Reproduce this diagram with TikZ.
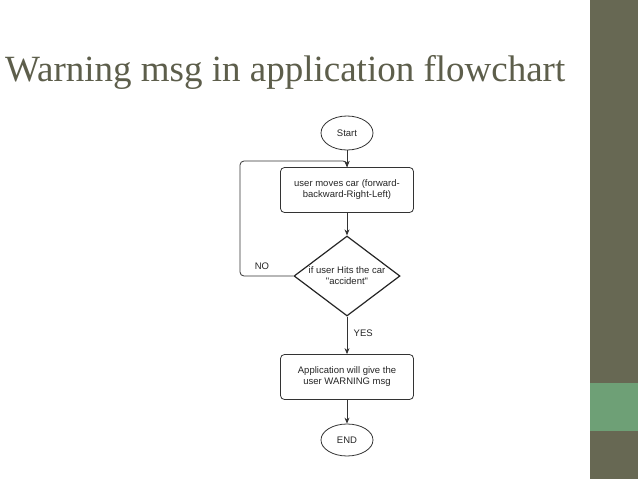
\documentclass[tikz,border=0pt]{standalone}
\usepackage{fontspec}
\setmainfont{Liberation Serif}
\newfontfamily\sansf{Liberation Sans}
\usetikzlibrary{shapes.geometric,arrows.meta}
\definecolor{olive}{RGB}{103,104,83}
\definecolor{lgreen}{RGB}{110,160,118}
\begin{document}
\begin{tikzpicture}[x=1pt,y=-1pt,
  every node/.style={font=\sansf\fontsize{9.5}{11}\selectfont,align=center,text=black!85},
  term/.style={draw=black!80,line width=0.8pt,ellipse,minimum width=52pt,minimum height=34pt,inner sep=0pt},
  proc/.style={draw=black!80,line width=0.8pt,rounded corners=4pt,minimum width=133pt,minimum height=45pt,inner sep=1pt},
  dec/.style={draw=black!85,line width=1.2pt,diamond,aspect=1.33,minimum width=106pt,minimum height=80pt,inner sep=-12pt},
  arr/.style={draw=black!80,line width=0.8pt,-{Stealth[length=6pt,width=5pt]}}]
\useasboundingbox (0,0) rectangle (638,479);
\fill[white] (0,0) rectangle (638,479);
\fill[olive] (590,0) rectangle (638,479);
\fill[lgreen] (590,383) rectangle (638,431);
\node[font=\fontsize{37}{40}\selectfont,text=olive!90!black,anchor=base west,inner sep=0] (title) at (5,81) {Warning msg in application flowchart};
\node[term] (start) at (347,133) {Start};
\node[proc] (move) at (347,190) {user moves car (forward-\\backward-Right-Left)};
\node[dec] (hit) at (347,276) {if user Hits the car\\\symbol{34}accident\symbol{34}};
\node[proc] (warn) at (347,377) {Application will give the\\user WARNING msg};
\node[term,minimum height=32pt] (end) at (347,440) {END};
\coordinate (lp) at (347,161);
\draw[arr] (start) -- (move);
\draw[arr] (move) -- (hit);
\draw[arr] (hit) -- node[right,pos=0.45,xshift=3pt]{YES} (warn);
\draw[arr] (warn) -- (end);
\draw[arr,rounded corners=4pt] (hit.west) -- (240,276) -- (240,161) -- (lp) -- (347,167);
\node (no) at (262,266) {NO};
\end{tikzpicture}
\end{document}
